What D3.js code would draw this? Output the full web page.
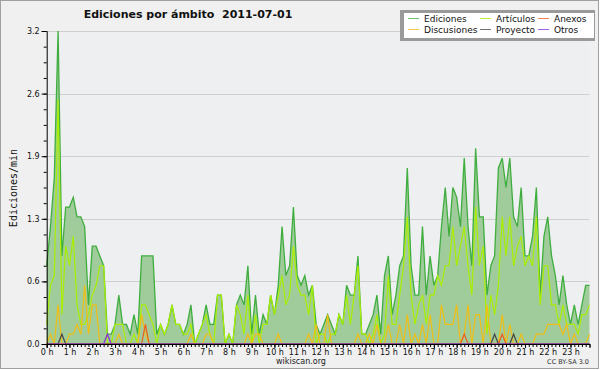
<!DOCTYPE html>
<html>
<head>
<meta charset="utf-8">
<script src="https://cdn.jsdelivr.net/npm/d3@7"></script>
<style>
  body { margin: 0; background: #fff; }
  svg { display: block; font-family: "DejaVu Sans", sans-serif; }
</style>
</head>
<body>
<div id="chart"></div>
<script>
// edits per minute, one value every 10 minutes (00:00 .. 23:50)
var ediciones = [
  0.8,1.2,1.7,3.2,0.9,1.4,1.4,1.5,1.3,1.3,1.2,0.4,
  1.0,1.0,0.9,0.8,0.1,0.1,0.2,0.5,0.2,0.2,0.1,0.3,
  0.1,0.9,0.9,0.9,0.9,0.1,0.2,0.1,0.2,0.4,0.2,0.2,
  0.1,0.2,0.4,0.0,0.1,0.2,0.4,0.2,0.2,0.5,0.5,0.0,
  0.1,0.0,0.4,0.5,0.4,0.8,0.1,0.5,0.1,0.3,0.2,0.5,
  0.3,0.6,1.2,0.7,0.8,1.4,0.7,0.6,0.7,0.5,0.6,0.2,
  0.1,0.2,0.3,0.2,0.1,0.3,0.2,0.6,0.5,0.5,0.9,0.1,
  0.1,0.2,0.3,0.5,0.1,0.7,0.9,0.3,0.5,0.8,0.9,1.8,
  0.8,0.5,0.5,1.2,0.5,0.9,0.6,0.7,1.2,1.6,1.1,1.6,
  1.5,1.2,1.9,1.2,0.8,2.0,1.3,1.3,0.5,0.8,0.9,1.8,
  1.9,1.6,1.9,1.3,1.2,1.6,0.9,0.9,1.1,1.6,0.5,1.1,
  1.3,0.9,0.7,0.4,0.7,0.4,0.2,0.4,0.2,0.4,0.6,0.6
];
var articulos = [
  0.2,0.6,0.7,2.5,0.3,1.0,0.8,1.1,0.4,0.2,0.2,0.3,
  0.5,0.6,0.8,0.8,0.0,0.0,0.2,0.2,0.2,0.0,0.0,0.1,
  0.0,0.4,0.4,0.3,0.2,0.0,0.2,0.1,0.2,0.4,0.2,0.2,
  0.1,0.1,0.2,0.0,0.1,0.2,0.3,0.1,0.0,0.5,0.5,0.0,
  0.1,0.0,0.4,0.3,0.1,0.5,0.0,0.3,0.0,0.2,0.2,0.5,
  0.3,0.5,0.7,0.4,0.5,1.0,0.6,0.5,0.5,0.3,0.6,0.0,
  0.1,0.1,0.0,0.1,0.1,0.3,0.2,0.5,0.2,0.5,0.8,0.1,
  0.1,0.0,0.1,0.3,0.0,0.1,0.7,0.2,0.2,0.5,0.8,1.3,
  0.5,0.2,0.4,0.5,0.2,0.5,0.5,0.7,0.6,0.8,0.8,1.2,
  0.8,1.0,1.2,0.8,0.5,1.4,0.8,1.0,0.1,0.5,0.3,0.6,
  1.3,0.9,1.3,0.8,1.0,1.1,0.8,0.9,0.8,1.3,0.4,0.8,
  0.8,0.4,0.4,0.2,0.4,0.2,0.2,0.2,0.1,0.3,0.3,0.4
];
var discusiones = [
  0.0,0.1,0.0,0.4,0.0,0.0,0.1,0.1,0.2,0.1,0.6,0.1,
  0.4,0.4,0.0,0.0,0.0,0.0,0.0,0.1,0.0,0.0,0.0,0.0,
  0.0,0.3,0.1,0.0,0.0,0.0,0.0,0.0,0.0,0.0,0.0,0.0,
  0.0,0.0,0.1,0.0,0.0,0.0,0.1,0.1,0.0,0.0,0.0,0.0,
  0.0,0.0,0.0,0.0,0.0,0.1,0.0,0.1,0.1,0.0,0.0,0.0,
  0.0,0.1,0.0,0.0,0.0,0.0,0.0,0.0,0.0,0.1,0.0,0.2,
  0.0,0.0,0.3,0.0,0.0,0.0,0.0,0.0,0.0,0.0,0.1,0.0,
  0.0,0.1,0.0,0.2,0.0,0.0,0.2,0.0,0.0,0.2,0.0,0.3,
  0.0,0.1,0.0,0.2,0.0,0.3,0.0,0.0,0.4,0.2,0.2,0.2,
  0.4,0.0,0.1,0.4,0.0,0.3,0.3,0.0,0.4,0.0,0.0,0.0,
  0.3,0.0,0.2,0.0,0.0,0.1,0.0,0.0,0.0,0.1,0.1,0.1,
  0.2,0.2,0.2,0.2,0.1,0.2,0.0,0.1,0.0,0.0,0.0,0.1
];
var anexos = [
  0,0,0,0,0,0,0,0,0,0,0,0,
  0,0,0,0,0,0,0,0,0,0,0,0,
  0,0,0.2,0,0,0,0,0,0,0,0,0,
  0,0,0,0,0,0,0,0,0,0,0,0,
  0,0,0,0,0,0,0,0,0,0,0,0,
  0,0,0,0,0,0,0,0,0,0,0,0,
  0,0,0,0,0,0,0,0,0,0,0,0,
  0,0,0,0,0,0,0,0,0,0,0,0,
  0,0,0,0,0,0,0,0,0,0,0,0,
  0,0,0.1,0,0,0,0,0,0,0,0,0,
  0.1,0,0,0,0,0,0,0,0,0,0,0,
  0,0,0,0,0,0,0,0,0,0,0,0
];
var proyecto = [
  0,0,0,0,0.1,0,0,0,0,0,0,0,
  0,0,0,0,0,0,0,0,0,0,0,0,
  0,0,0,0,0,0,0,0,0,0,0,0,
  0,0,0,0,0,0,0,0,0,0,0,0,
  0,0,0,0,0,0,0,0,0,0,0,0,
  0,0,0,0,0,0,0,0,0,0,0,0,
  0,0,0,0,0,0,0,0,0,0,0,0,
  0,0,0,0,0,0,0,0,0,0,0,0,
  0,0,0,0,0,0,0,0,0,0,0,0,
  0,0,0,0,0,0,0,0,0,0,0.1,0,
  0,0,0,0.1,0,0,0,0,0,0,0,0,
  0,0,0,0,0,0,0,0,0,0,0,0
];
var otros = [
  0,0,0,0,0,0,0,0,0,0,0,0,
  0,0,0,0,0.1,0,0,0,0,0,0,0,
  0,0,0,0,0,0,0,0,0,0,0,0,
  0,0,0,0,0,0,0,0,0,0,0,0,
  0,0,0,0,0,0,0,0,0,0,0,0,
  0,0,0,0,0,0,0,0,0,0,0,0,
  0,0,0,0,0,0,0,0,0,0,0,0,
  0,0,0,0,0,0,0,0,0,0,0,0,
  0,0,0,0,0,0,0,0,0,0,0,0,
  0,0,0,0,0,0,0,0,0,0,0,0,
  0,0,0,0,0,0,0,0,0,0,0,0,
  0,0,0,0,0,0,0,0,0,0,0,0
];

var hourTicks = [0,1,2,3,4,5,6,7,8,9,10,11,12,13,14,15,16,17,18,19,20,21,22,23];
var yTicks = [0, 0.64, 1.28, 1.92, 2.56, 3.2];
var yLabels = ["0.0", "0.6", "1.3", "1.9", "2.6", "3.2"];

var W = 600, H = 370;
var x0 = 46.7, x1 = 589.5, yTop = 31, yBot = 344;

var svg = d3.select("#chart").append("svg")
  .attr("width", W).attr("height", H);

// background + frame
svg.append("rect")
  .attr("x", 0.5).attr("y", 0.5).attr("width", W - 2).attr("height", H - 2)
  .attr("fill", "#f0f0f0").attr("stroke", "#a0a0a0");
svg.append("rect")
  .attr("x", x0).attr("y", yTop).attr("width", x1 - x0).attr("height", yBot - yTop)
  .attr("fill", "#eeeff1");

// time in hours for each 10 min slot
var times = ediciones.map(function (d, i) { return i / 6; });

var x = d3.scaleLinear().domain([0, times[times.length - 1]]).range([x0, x1]);
var y = d3.scaleLinear().domain([0, 3.2]).range([yBot, yTop]);

// grid
svg.append("g").selectAll("line")
  .data(yTicks.slice(1))
  .enter().append("line")
    .attr("x1", x0).attr("x2", x1)
    .attr("y1", function (d) { return Math.round(y(d)) + 0.5; })
    .attr("y2", function (d) { return Math.round(y(d)) + 0.5; })
    .attr("stroke", "#cfcfcf");

// total area
var area = d3.area()
  .x(function (d, i) { return x(times[i]); })
  .y0(yBot)
  .y1(function (d) { return y(d); });
svg.append("path")
  .datum(ediciones)
  .attr("d", area)
  .attr("fill", "#a0cc9c");

var line = d3.line()
  .x(function (d, i) { return x(times[i]); })
  .y(function (d) { return y(d); });

var series = [
  {name: "Ediciones", values: ediciones, color: "#3fae3f", w: 1.3},
  {name: "Artículos", values: articulos, color: "#aaee00", w: 1.2},
  {name: "Anexos", values: anexos, color: "#f05a1e", w: 1.2},
  {name: "Discusiones", values: discusiones, color: "#f0be14", w: 1.2},
  {name: "Proyecto", values: proyecto, color: "#444444", w: 1.2},
  {name: "Otros", values: otros, color: "#8a2be2", w: 1.2}
];

var drawOrder = [0, 1, 3, 2, 4, 5];
drawOrder.forEach(function (k) {
  var s = series[k];
  svg.append("path")
    .datum(s.values)
    .attr("d", line)
    .attr("fill", "none")
    .attr("stroke", s.color)
    .attr("stroke-width", s.w)
    .attr("stroke-linejoin", "miter");
});

// axes
svg.append("g")
  .attr("transform", "translate(" + x0 + ",0)")
  .call(d3.axisLeft(y).tickValues(yTicks).tickSize(5).tickPadding(2)
    .tickFormat(function (d, i) { return yLabels[i]; }));
svg.append("g")
  .attr("transform", "translate(" + x0 + ",0)")
  .call(d3.axisLeft(y).tickValues(d3.range(0, 3.21, 0.16)).tickSize(3).tickFormat(""))
  .select(".domain").remove();

svg.append("g")
  .attr("transform", "translate(0," + yBot + ")")
  .call(d3.axisBottom(x).tickValues(hourTicks).tickSize(4).tickPadding(1)
    .tickFormat(function (d) { return d + " h"; }));
svg.append("g")
  .attr("transform", "translate(0," + yBot + ")")
  .call(d3.axisBottom(x).tickValues(times).tickSize(3).tickFormat(""))
  .select(".domain").remove();

svg.selectAll(".tick text")
  .attr("font-family", "DejaVu Sans, sans-serif")
  .attr("font-size", 8)
  .attr("fill", "#111");
svg.selectAll(".domain").attr("stroke", "#000");
svg.selectAll(".tick line").attr("stroke", "#000");

// titles
svg.append("text")
  .attr("x", 188).attr("y", 18)
  .attr("text-anchor", "middle")
  .attr("font-size", 11).attr("font-weight", "bold")
  .attr("fill", "#111")
  .style("white-space", "pre")
  .text("Ediciones por ámbito  2011-07-01");

svg.append("text")
  .attr("transform", "translate(17,188) rotate(-90)")
  .attr("text-anchor", "middle")
  .attr("font-family", "DejaVu Sans Mono, monospace")
  .attr("font-size", 10)
  .attr("fill", "#111")
  .text("Ediciones/min");

svg.append("text")
  .attr("x", 301).attr("y", 364)
  .attr("text-anchor", "middle")
  .attr("font-size", 8).attr("fill", "#222")
  .text("wikiscan.org");

svg.append("text")
  .attr("x", 589).attr("y", 364)
  .attr("text-anchor", "end")
  .attr("font-size", 6.5).attr("fill", "#333")
  .text("CC BY-SA 3.0");

// legend
var legend = svg.append("g");
legend.append("rect")
  .attr("x", 400).attr("y", 10).attr("width", 195).attr("height", 31)
  .attr("fill", "#9a9a9a");
legend.append("rect")
  .attr("x", 404).attr("y", 13).attr("width", 190).attr("height", 25)
  .attr("fill", "#fff");

var colX = [408, 480, 538];
var rowY = [18.5, 29.5];
series.forEach(function (s, i) {
  var cx = colX[i % 3], cy = rowY[Math.floor(i / 3)];
  legend.append("line")
    .attr("x1", cx).attr("x2", cx + 11)
    .attr("y1", cy).attr("y2", cy)
    .attr("stroke", s.color).attr("stroke-width", 1).attr("opacity", 0.75);
  legend.append("text")
    .attr("x", cx + 16).attr("y", cy + 3.5)
    .attr("font-size", 9).attr("fill", "#111")
    .text(s.name);
});
</script>
</body>
</html>
